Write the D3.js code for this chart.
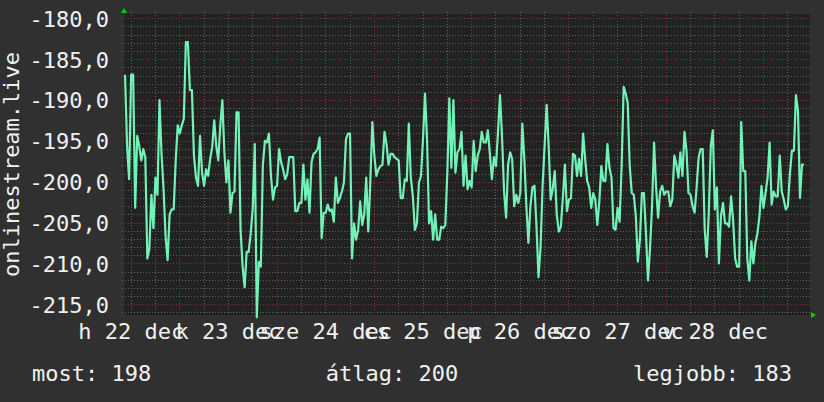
<!DOCTYPE html>
<html lang="hu">
<head>
<meta charset="UTF-8">
<title>onlinestream.live</title>
<script src="https://cdn.jsdelivr.net/npm/d3@7"></script>
<style>
  body { margin: 0; background: #303030; }
  svg { display: block; }
  text { font-family: "DejaVu Sans Mono", monospace; font-size: 22px; fill: #f0f0f0; }
</style>
</head>
<body>
<div id="chart"></div>
<script>
// half-hourly readings
const values = [
  -186.9, -195.6, -199.7, -186.9, -186.9, -203.2, -194.4, -195.6, -197.4, -196,
  -197, -209.4, -208.2, -201.6, -205.7, -199.5, -201.6, -190, -196.6, -200.9,
  -206.7, -209.6, -204, -203.4, -203.4, -197.4, -193.1, -194.1, -193.1, -192.3,
  -182.9, -182.9, -188.8, -188.8, -196.8, -199.5,
  -200.5, -194.4, -198.9, -200.5, -198.5, -199.3, -197.2, -195.8, -192.5, -195.6,
  -197.4, -193.1, -190, -196.4, -200.1, -197.4, -203.8, -201.4,
  -201.2, -191.5, -191.5, -205.9, -210.4, -212.9, -208.6, -208.6, -206.3, -203.2,
  -195.4, -216.6, -209.8, -210.4, -197.9, -195, -195.2, -194.1, -199.3, -202.2,
  -200.7, -200.5, -196, -197.6, -198.5, -199.7, -199.1, -197, -197, -197,
  -203.6, -203.6, -202.6, -202.6, -197.9, -202.2, -199.7, -203.8, -197.6, -196.6,
  -196.4, -196, -194.6, -206.9, -203.8, -203.8, -202.8, -203.6, -203.4, -204.9,
  -199.5, -202.6,
  -202, -201.2, -200.1, -194.8,
  -194.1, -194.1, -209.4, -205.1, -207.1, -205.9, -202.4, -205.3, -204, -199.5,
  -206.1, -200.1, -192.7, -196.8, -199.3, -198.5, -198.1, -197.9, -193.9, -195.4,
  -197.9, -196.6, -196.6, -197, -197.2, -197.4, -202, -202, -199.7, -199.9,
  -192.9, -199.5, -201.8, -205.9, -205.1, -200.1, -199.3, -194.8, -189.2, -194.8,
  -205.1, -203.6, -207.1, -204, -207.1, -207.1, -205.5, -205.7, -205.3, -198.9,
  -189.8, -198.3, -190, -198.9, -196.4, -196, -193.9,
  -200.5, -196.8, -200.9, -199.9, -200.7, -195, -198.7, -196.8, -196, -193.9,
  -195.2, -195.2, -193.7, -196.6, -199.7, -197, -198.1, -193.9, -189.4, -194.6,
  -201.2, -204.4, -197.9, -196.4, -197.2, -203, -201.6, -202.6, -201.4, -192.9,
  -197.2, -203, -207.5, -203, -200.7, -200.5, -205.5, -211.7, -208, -200.5,
  -195.6, -190.6, -195.6, -202.2, -200.9, -198.7, -204, -206.1, -205.5, -202,
  -197.9, -203.6, -202.2, -202, -196.6,
  -196.8, -199.3, -197.2, -199.3, -194.1, -197.2, -199.9, -200.7, -203.2, -201.4,
  -202.2, -205.3, -202.4, -198.1, -199.9, -199.9, -195.4, -198.3, -199.5, -205.7,
  -205.9, -203.2, -204.9, -198.1, -188.4, -189.2, -190.4, -198.1, -201.4, -201.6,
  -204.2, -209.8, -207.1, -201.4, -201.4, -206.3, -212.1, -208.2, -203, -195.2,
  -200.7, -204.4, -201.2, -200.5, -201.6, -201.2, -201.2, -203, -202.2, -196.8,
  -197.9, -199.5, -196.4, -199.3, -193.9, -196.2, -201.4,
  -201.6, -203, -203.8, -200.7, -197, -196, -196, -205.9, -209.2, -203.8,
  -195.6, -193.7, -203.4, -200.7, -210, -204.2, -202.6, -205.1, -205.1, -205.5,
  -201.8, -204.7, -209.4, -210.4, -210.4, -192.7, -198.7, -198.7, -209.4, -212.1,
  -207.3, -210, -207.5, -206.3, -204.2, -200.5, -203.2, -201.4, -199.5, -195.2,
  -202.8, -201.2, -201.8, -201.8, -196.8, -201.2, -202.2, -203.4, -203, -199.1,
  -196.2, -196.2, -189.4, -191.3, -202, -197.9, -197.9
];
const startTime = new Date(2014, 11, 22, 10, 37);
const stepMinutes = 30;

const yTicks = [-215, -210, -205, -200, -195, -190, -185, -180];
const yTitle = "onlinestream.live";
const legendNames = ["most", "átlag", "legjobb"];
const legendValues = [198, 200, 183];

const width = 824, height = 402;
const plot = { left: 124, right: 810, top: 14, bottom: 315 };

const huTime = d3.timeFormatLocale({
  dateTime: "%Y. %B %-e., %A %X", date: "%Y. %m. %d.", time: "%H:%M:%S",
  periods: ["de.", "du."],
  days: ["vasárnap", "hétfő", "kedd", "szerda", "csütörtök", "péntek", "szombat"],
  shortDays: ["v", "h", "k", "sze", "cs", "p", "szo"],
  months: ["január", "február", "március", "április", "május", "június", "július", "augusztus", "szeptember", "október", "november", "december"],
  shortMonths: ["jan", "feb", "márc", "ápr", "máj", "jún", "júl", "aug", "szept", "okt", "nov", "dec"]
});
const huNum = d3.formatLocale({ decimal: ",", thousands: " ", grouping: [3], currency: ["", " Ft"], minus: "-" });

const data = values.map((v, i) => ({ t: d3.timeMinute.offset(startTime, i * stepMinutes), v }));

const x = d3.scaleTime()
  .domain([new Date(2014, 11, 22, 10, 21, 36), new Date(2014, 11, 29, 11, 35)])
  .range([plot.left, plot.right]);
const y = d3.scaleLinear()
  .domain([-216.32, -179.47])
  .range([plot.bottom, plot.top]);

const svg = d3.select("#chart").append("svg")
  .attr("width", width)
  .attr("height", height);

svg.append("rect").attr("width", width).attr("height", height).attr("fill", "#303030");
svg.append("rect")
  .attr("x", plot.left).attr("y", plot.top)
  .attr("width", plot.right - plot.left).attr("height", plot.bottom - plot.top)
  .attr("fill", "#222222");

// grid
const minorY = d3.range(-216, -179, 1).filter(v => v % 5 !== 0);
const minorX = d3.timeHour.every(6).range(...x.domain()).filter(d => d.getHours() !== 0);
const majorX = d3.timeDay.range(...x.domain());

const grid = svg.append("g").attr("shape-rendering", "crispEdges");

function hLines(vals, color) {
  grid.selectAll(null).data(vals).enter().append("line")
    .attr("x1", plot.left - 2).attr("x2", plot.right)
    .attr("y1", d => Math.round(y(d)) + 0.5).attr("y2", d => Math.round(y(d)) + 0.5)
    .attr("stroke", color).attr("stroke-dasharray", "1,2");
}
function vLines(vals, color) {
  grid.selectAll(null).data(vals).enter().append("line")
    .attr("x1", d => Math.round(x(d)) + 0.5).attr("x2", d => Math.round(x(d)) + 0.5)
    .attr("y1", plot.top - 2).attr("y2", plot.bottom)
    .attr("stroke", color).attr("stroke-dasharray", "1,2");
}
hLines(minorY, "#606060");
vLines(minorX, "#606060");
hLines(yTicks, "#8f3535");
vLines(majorX, "#8f3535");

// series
svg.append("path")
  .datum(data)
  .attr("fill", "none")
  .attr("stroke", "#72f2b6")
  .attr("stroke-width", 2.2)
  .attr("stroke-linejoin", "round")
  .attr("d", d3.line().x(d => x(d.t)).y(d => y(d.v)));

// axes
const yAxis = svg.append("g")
  .attr("transform", `translate(${plot.left},0)`)
  .call(d3.axisLeft(y).tickValues(yTicks).tickSize(0).tickPadding(15).tickFormat(huNum.format(".1f")));
yAxis.select(".domain").remove();
yAxis.selectAll("text").attr("dy", "0.36em");

const noonTicks = d3.timeDay.range(new Date(2014, 11, 22), new Date(2014, 11, 29))
  .map(d => d3.timeHour.offset(d, 12));
const xAxis = svg.append("g")
  .attr("transform", `translate(0,${plot.bottom})`)
  .call(d3.axisBottom(x).tickValues(noonTicks).tickSize(0).tickPadding(8).tickFormat(huTime.format("%a %d %b")));
xAxis.select(".domain").remove();

// arrows
svg.append("path")
  .attr("d", `M${plot.left - 3},${plot.top - 1}L${plot.left + 3},${plot.top - 1}L${plot.left},${plot.top - 6}Z`)
  .attr("fill", "#00d000");
svg.append("path")
  .attr("d", `M${plot.right + 1},${plot.bottom - 3}L${plot.right + 1},${plot.bottom + 3}L${plot.right + 6},${plot.bottom}Z`)
  .attr("fill", "#00d000");

// title
svg.append("text")
  .attr("transform", `translate(19,${(plot.top + plot.bottom) / 2}) rotate(-90)`)
  .attr("text-anchor", "middle")
  .text(yTitle);

// legend
const legendX = [32, 392, 792];
const legendAnchor = ["start", "middle", "end"];
svg.selectAll(".legend")
  .data(legendNames)
  .enter().append("text")
  .attr("class", "legend")
  .attr("x", (d, i) => legendX[i])
  .attr("y", 381)
  .attr("text-anchor", (d, i) => legendAnchor[i])
  .text((d, i) => `${d}: ${legendValues[i]}`);
</script>
</body>
</html>
